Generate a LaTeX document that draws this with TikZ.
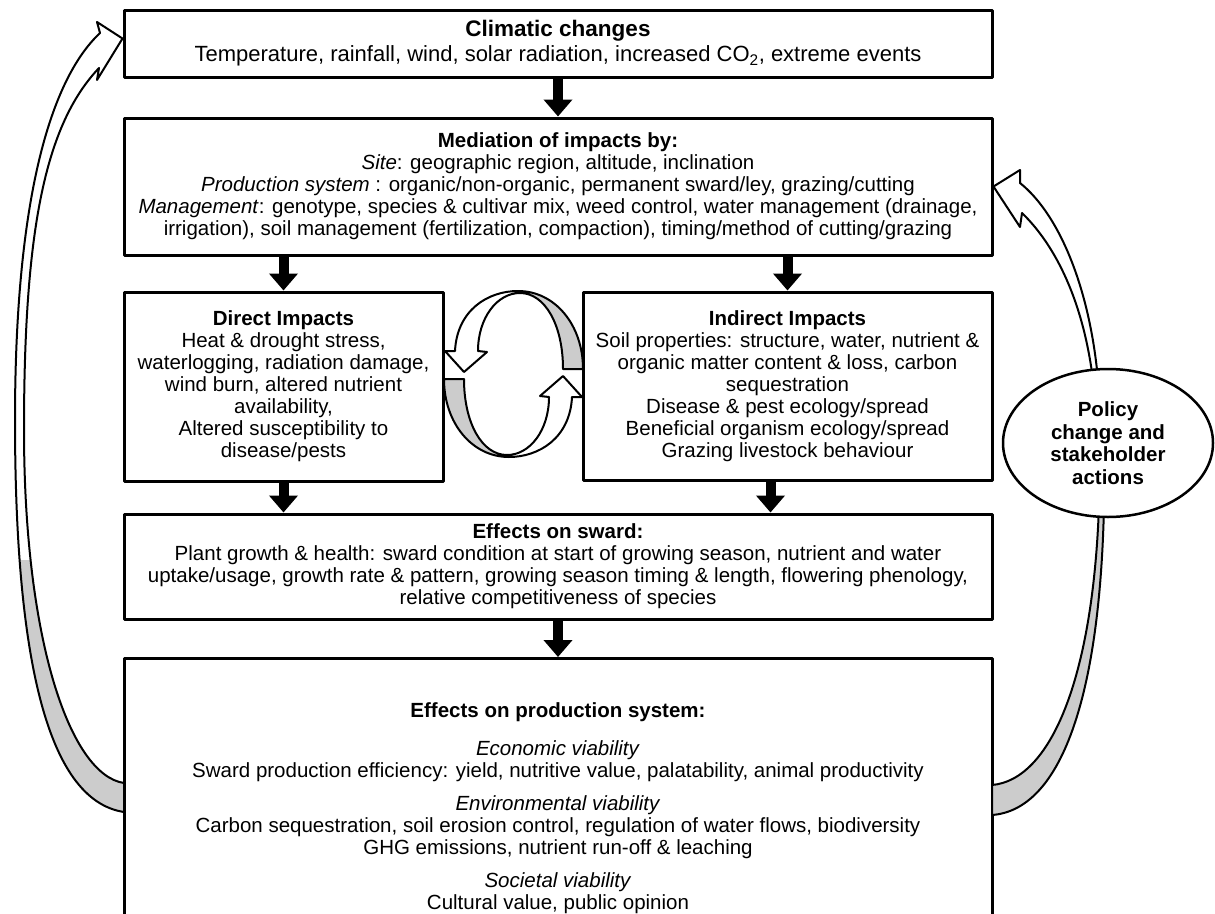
\documentclass[tikz,border=0pt]{standalone}
\usepackage{fontspec}
\setmainfont{Liberation Sans}
\usetikzlibrary{arrows.meta, calc, positioning, shapes}
\definecolor{ribbongrey}{RGB}{204,204,204}

\begin{document}
\begin{tikzpicture}[x=1pt, y=-1pt, line cap=round, line join=round, >=Triangle,
    box/.style={draw, line width=3pt, align=center, inner sep=0pt, font=\fontsize{20.5}{22}\selectfont},
    flow/.style={line width=10pt, line cap=butt, -{Triangle[width=28pt,length=17pt]}},
    ribbon/.style={draw, line width=2pt},
    loopribbon/.style={insert path={(455,351) -- (445,351) -- (464,372) -- (487,352) -- (478,351)
        .. controls (478,318) and (497,293) .. (520,293) .. controls (545,293) and (563,325) .. (563,369)
        -- (583,369) .. controls (583,325) and (555,291) .. (518,291) .. controls (488,291) and (457,310) .. (455,351) -- cycle}},
    leftribbon/.style={insert path={([yshift=5pt]clim.west) -- (97,80) -- (99,68)
        .. controls (45,125) and (24,230) .. (24,430) .. controls (24,640) and (70,775) .. (124,783)
        -- (124,812) .. controls (45,800) and (15,650) .. (15,420) .. controls (15,200) and (50,80) .. (100,33)
        -- (97,22) -- cycle}}]
    % page
    \useasboundingbox[fill=white] (0,0) rectangle (1215,913);
    \clip (0,0) rectangle (1215,913);

    % boxes
    \node[box, minimum width=868pt, minimum height=67pt] (clim) at (558,43.5)
        {{\fontsize{22.5}{24}\selectfont\bfseries Climatic changes}\\[3pt]
         {\fontsize{22}{24}\selectfont Temperature,\ rainfall,\ wind,\ solar radiation,\ increased CO\textsubscript{2},\ extreme events}};
    \node[box, minimum width=868pt, minimum height=137pt] (med) at (558,186.5)
        {\textbf{Mediation of impacts by:}\\
         \textit{Site}: geographic region, altitude, inclination\\
         \textit{Production system} : organic/non-organic, permanent sward/ley, grazing/cutting\\
         \textit{Management}: genotype, species \& cultivar mix, weed control, water management (drainage,\\
         irrigation), soil management (fertilization, compaction), timing/method of cutting/grazing};
    \node[box, minimum width=319pt, minimum height=189pt] (direct) at (283.5,386.5)
        {\textbf{Direct Impacts}\\ Heat \& drought stress,\\ waterlogging, radiation damage,\\
         wind burn, altered nutrient\\ availability,\\ Altered susceptibility to\\ disease/pests};
    \node[box, minimum width=409pt, minimum height=188pt] (indirect) at (787.5,386)
        {\textbf{Indirect Impacts}\\ Soil properties: structure, water, nutrient \&\\
         organic matter content \& loss, carbon\\ sequestration\\ Disease \& pest ecology/spread\\
         Beneficial organism ecology/spread\\ Grazing livestock behaviour};
    \node[box, minimum width=868pt, minimum height=105pt] (sward) at (558,566.5)
        {\textbf{Effects on sward:}\\
         Plant growth \& health: sward condition at start of growing season, nutrient and water\\
         uptake/usage, growth rate \& pattern, growing season timing \& length, flowering phenology,\\
         relative competitiveness of species};
    \node[box, anchor=north, minimum width=868pt, minimum height=300pt] (prod) at (558,657)
        {\textbf{Effects on production system:}\\[16pt]
         \textit{Economic viability}\\
         Sward production efficiency: yield, nutritive value, palatability, animal productivity\\[11pt]
         \textit{Environmental viability}\\
         Carbon sequestration, soil erosion control, regulation of water flows, biodiversity\\
         GHG emissions, nutrient run-off \& leaching\\[11pt]
         \textit{Societal viability}\\
         Cultural value, public opinion};

    % flow arrows
    \draw[flow] (clim) -- (med);
    \draw[flow] (direct.north |- med.south) -- (direct.north);
    \draw[flow] (indirect.north |- med.south) -- (indirect.north);
    \draw[flow] (direct.south) -- (direct.south |- sward.north);
    \draw[flow] ([xshift=-17pt]indirect.south) -- ([xshift=-17pt]indirect.south |- sward.north);
    \draw[flow] (sward) -- (prod.north);

    % loop between direct and indirect impacts
    \foreach \ang in {0,180} {
        \begin{scope}[rotate around={\ang:(513.5,374)}]
            \begin{scope}
                \clip (519,280) rectangle (600,380);
                \fill[ribbongrey, loopribbon];
            \end{scope}
            \draw[ribbon, loopribbon];
        \end{scope}
    }

    % feedback to climatic changes
    \begin{scope}
        \clip (0,560) rectangle (130,830);
        \fill[ribbongrey, leftribbon];
    \end{scope}
    \draw[ribbon, leftribbon];

    % feedback through policy
    \draw[ribbon, fill=ribbongrey] (1099,505) -- (1104,505) .. controls (1100,700) and (1060,810) .. (992,815)
        -- (992,785) .. controls (1050,780) and (1093,680) .. (1099,505) -- cycle;
    \draw[ribbon, fill=white] (med.east) -- (1020,170) -- (1020,183) .. controls (1060,215) and (1090,290) .. (1098,380)
        -- (1093,380) .. controls (1083,300) and (1055,245) .. (1022,213) -- (1020,227) -- cycle;
    \node[draw, ellipse, line width=2.5pt, fill=white, minimum width=210pt, minimum height=148pt, inner sep=0pt,
        align=center, font=\fontsize{20.5}{22.5}\selectfont\bfseries] (policy) at (1108,443)
        {Policy\\change and\\stakeholder\\actions};
\end{tikzpicture}
\end{document}
